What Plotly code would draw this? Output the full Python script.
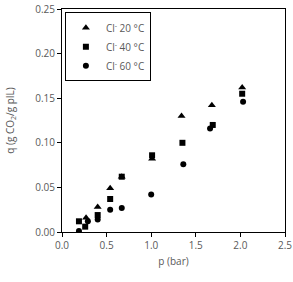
import plotly.graph_objects as go

p20 = [0.27, 0.40, 0.54, 0.67, 1.01, 1.34, 1.68, 2.02]
q20 = [0.016, 0.028, 0.049, 0.062, 0.082, 0.130, 0.142, 0.162]
p40 = [0.19, 0.26, 0.40, 0.54, 0.67, 1.01, 1.35, 1.69, 2.02]
q40 = [0.012, 0.006, 0.019, 0.037, 0.062, 0.086, 0.100, 0.120, 0.155]
p60 = [0.19, 0.29, 0.40, 0.54, 0.67, 1.00, 1.36, 1.66, 2.03]
q60 = [0.001, 0.012, 0.014, 0.025, 0.027, 0.042, 0.076, 0.116, 0.146]

names = ["Cl<sup>-</sup> 20 °C", "Cl<sup>-</sup> 40 °C", "Cl<sup>-</sup> 60 °C"]
xtick = [0.0, 0.5, 1.0, 1.5, 2.0, 2.5]
ytick = [0.00, 0.05, 0.10, 0.15, 0.20, 0.25]

gray = "#595959"
FONT = "Open Sans"
fig = go.Figure()
fig.add_trace(go.Scatter(x=p20, y=q20, mode="markers", name=names[0],
                         marker=dict(symbol="triangle-up", size=7, color="black")))
fig.add_trace(go.Scatter(x=p40, y=q40, mode="markers", name=names[1],
                         marker=dict(symbol="square", size=6, color="black")))
fig.add_trace(go.Scatter(x=p60, y=q60, mode="markers", name=names[2],
                         marker=dict(symbol="circle", size=6, color="black")))

axis_common = dict(showline=True, linecolor="black", linewidth=1, mirror=True,
                   showgrid=False, zeroline=False, ticks="outside", ticklen=4,
                   tickcolor="black", automargin=False,
                   tickfont=dict(size=10, color=gray, family=FONT))
fig.update_xaxes(range=[0, 2.5], tickvals=xtick, tickformat=".1f",
                 title=dict(text="p (bar)", font=dict(size=10, color=gray,
                 family=FONT), standoff=6), **axis_common)
fig.update_yaxes(range=[0, 0.25], tickvals=ytick, tickformat=".2f",
                 title=dict(text="q (g CO<sub>2</sub>/g pIL)", font=dict(size=10, color=gray,
                 family=FONT), standoff=18), **axis_common)
fig.update_layout(width=293, height=282, margin=dict(l=62, r=8, t=9, b=50),
                  plot_bgcolor="white", paper_bgcolor="white",
                  legend=dict(x=0.013, y=0.985, xanchor="left", yanchor="top",
                              bordercolor="black", borderwidth=1, bgcolor="white",
                              font=dict(size=10, color=gray, family=FONT),
                              itemwidth=30, tracegroupgap=0))
fig.write_html("out.html", config={"displayModeBar": False},
               post_script="document.body.style.margin='0';document.body.style.padding='0';")
